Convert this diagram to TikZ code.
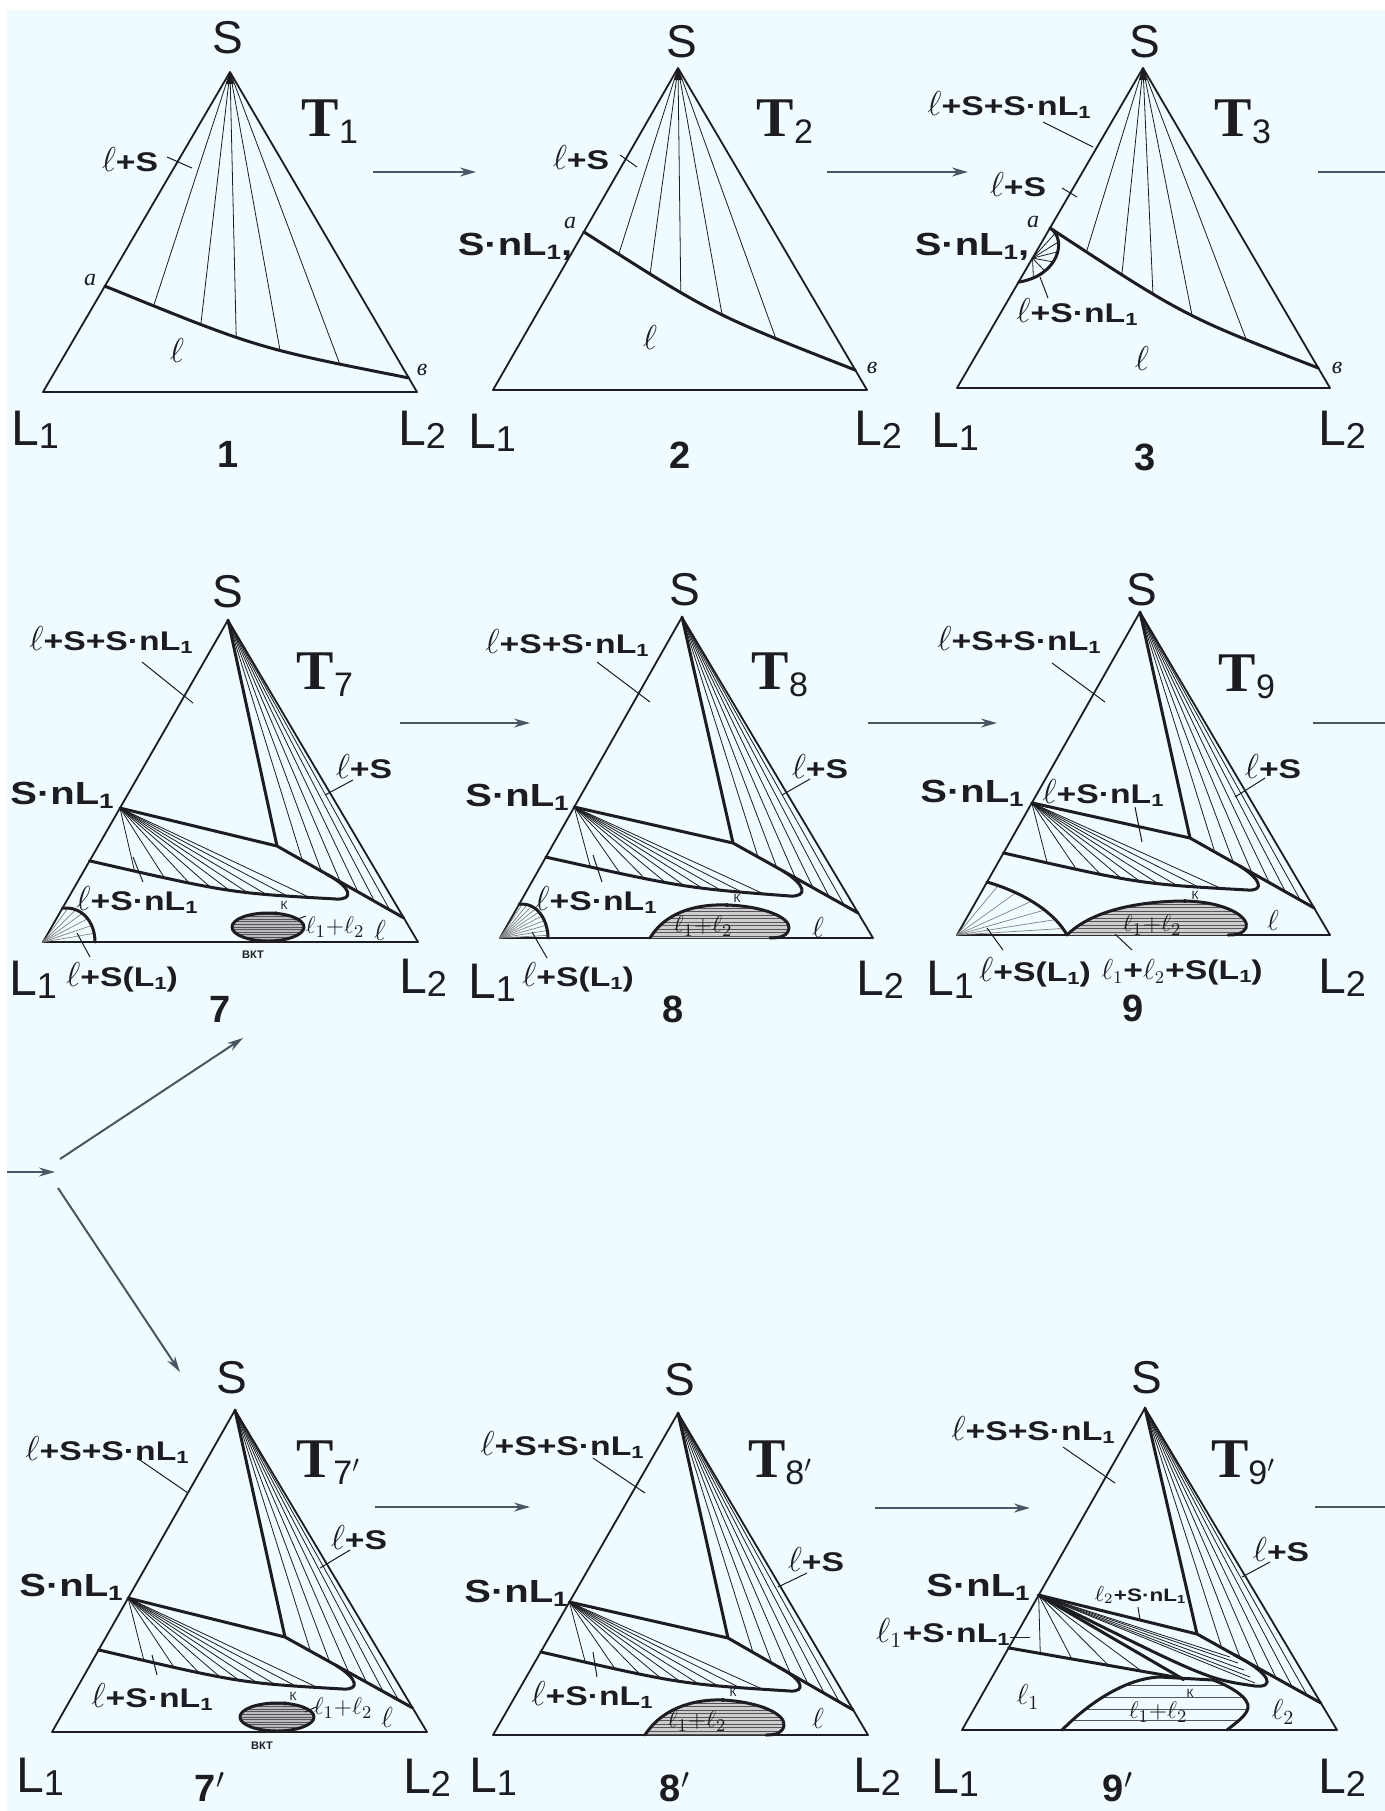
\documentclass[tikz,border=0pt]{standalone}
\usepackage{fontspec}
\usepackage{graphicx}
\setmainfont{Liberation Sans}
\newfontfamily\wsans[FakeStretch=1.25]{Liberation Sans}
\newfontfamily\tserif{Liberation Serif}
\usetikzlibrary{calc,arrows.meta}
\definecolor{bg}{RGB}{239,251,254}
\definecolor{ink}{RGB}{28,28,34}
\definecolor{arr}{RGB}{72,86,102}
\newcommand\el{\scalebox{1.2}{$\ell$}}
\newcommand\lsub[1]{\raisebox{-0.12em}{\scalebox{0.65}{#1}}}
\newcommand\rl{\wsans\bfseries\fontsize{13.5}{13.5}\selectfont}
\newcommand\vl{\wsans\bfseries\fontsize{16}{16}\selectfont}
\newcommand\sS{\fontsize{23}{23}\selectfont S}
\newcommand\Lx[1]{\fontsize{25}{25}\selectfont L\raisebox{-1.7pt}{\fontsize{18}{18}\selectfont #1}}
\newcommand\Tx[1]{{\tserif\bfseries\fontsize{28}{28}\selectfont T}\raisebox{-3.5pt}{\fontsize{17}{17}\selectfont #1}}
\newcommand\nx[1]{\bfseries\fontsize{19}{19}\selectfont #1}
\newcommand\bigel[1]{\fontsize{#1}{#1}\selectfont$\ell$}
\newcommand\ab[1]{\tserif\itshape\fontsize{12}{12}\selectfont #1}
\newcommand\llsum{\fontsize{12.5}{12.5}\selectfont$\ell_1{+}\ell_2$}
\newcommand\kk{\fontsize{6}{6}\selectfont К}
\newcommand\upper[1]{%
  \draw[side] (#1A) -- (#1B) -- (#1C) -- cycle;
  \foreach \t in {0.2,0.35,0.5,0.64,0.77,0.89} {\draw[tie] (#1A) -- ($(#1P)!\t!(#1R)$);}
  \draw[thk] (#1A) -- (#1P);
  \draw[thk] (#1Q) -- (#1P) -- (#1R);
}
\newcommand\lens[5]{%
  \path (#1U) .. controls #2 .. #3 coordinate[pos=0.12] (#1f1) coordinate[pos=0.22] (#1f2) coordinate[pos=0.32] (#1f3) coordinate[pos=0.42] (#1f4) coordinate[pos=0.52] (#1f5) coordinate[pos=0.62] (#1f6) coordinate[pos=0.72] (#1f7) coordinate[pos=0.82] (#1f8) coordinate[pos=0.91] (#1f9);
  \foreach \i in {1,...,9} {\draw[tie] (#1Q) -- (#1f\i);}
  \draw[thk] (#1U) .. controls #2 .. #3 .. controls #4 and #5 .. (#1M);
}
\newcommand\ovalh[4]{%
  \begin{scope}
    \clip (#1,#2) ellipse [x radius=#3, y radius=#4];
    \fill[ink!30] (#1-#3,#2-#4) rectangle (#1+#3,#2+#4);
    \foreach \k in {-5,...,5} {\draw[hat] (#1-#3,#2+\k*2.6) -- (#1+#3,#2+\k*2.6);}
  \end{scope}
  \draw[thk] (#1,#2) ellipse [x radius=#3, y radius=#4];
}
\begin{document}
\begin{tikzpicture}[x=0.5pt,y=-0.5pt,
  side/.style={draw=ink,line width=0.9pt,line join=round},
  thk/.style={draw=ink,line width=1.5pt,line join=round,line cap=round},
  tie/.style={draw=ink,line width=0.4pt},
  hat/.style={draw=ink!75,line width=0.35pt},
  lhat/.style={draw=ink!55,line width=0.35pt},
  ldr/.style={draw=ink,line width=0.5pt},
  lbl/.style={inner sep=0pt,text=ink},
  num/.style={inner sep=0pt,text=ink,anchor=base},
  flow/.style={draw=arr,line width=1pt,-{Stealth[length=8pt,width=4.5pt]}},
  stub/.style={draw=arr,line width=1pt}]
\path[use as bounding box] (0,0) rectangle (1385,1811);
\fill[white] (0,0) rectangle (1385,1811);
\fill[bg] (7,10) rectangle (1385,1811);

% ================= Triangle 1
\coordinate (oA) at (230,72); \coordinate (oB) at (43,392); \coordinate (oC) at (417,392);
\coordinate (oa) at ($(oA)!0.669!(oB)$); \coordinate (ov) at ($(oA)!0.956!(oC)$);
\path (oa) .. controls (257,348) .. (ov) coordinate[pos=0.12] (of1) coordinate[pos=0.27] (of2) coordinate[pos=0.41] (of3) coordinate[pos=0.6] (of4) coordinate[pos=0.82] (of5);
\foreach \i in {1,...,5} {\draw[tie] (oA) -- (of\i);}
\draw[side] (oA)--(oB)--(oC)--cycle;
\draw[thk] (oa) .. controls (257,348) .. (ov);
\fill[ink] (oA) -- ++(-4,12) -- ++(8,0) -- cycle;
\node[lbl] (o-S) at (228,38) {\sS};
\node[lbl] (o-T) at (330,122) {\Tx{1}};
\node[lbl] (o-L1) at (35,430) {\Lx{1}};
\node[lbl] (o-L2) at (422,430) {\Lx{2}};
\node[num] (o-n) at (228,467) {\nx{1}};
\node[lbl] (o-lS) at (130,160) {\rl\el+S};
\draw[ldr] (167,157) -- (192,168);
\node[lbl] (o-a) at (90,280) {\ab{a}};
\node[lbl] (o-v) at (422,370) {\ab{в}};
\node[lbl] (o-l) at (177,350) {\bigel{19}};

% ================= Triangle 2
\coordinate (wA) at (678,68); \coordinate (wB) at (493,390); \coordinate (wC) at (867,390);
\coordinate (wa) at ($(wA)!0.509!(wB)$); \coordinate (wv) at ($(wA)!0.938!(wC)$);
\path (wa) .. controls (712,314) .. (wv) coordinate[pos=0.1] (wf1) coordinate[pos=0.21] (wf2) coordinate[pos=0.34] (wf3) coordinate[pos=0.54] (wf4) coordinate[pos=0.77] (wf5);
\foreach \i in {1,...,5} {\draw[tie] (wA) -- (wf\i);}
\draw[side] (wA)--(wB)--(wC)--cycle;
\draw[thk] (wa) .. controls (712,314) .. (wv);
\fill[ink] (wA) -- ++(-4,12) -- ++(8,0) -- cycle;
\node[lbl] (w-S) at (682,42) {\sS};
\node[lbl] (w-T) at (785,122) {\Tx{2}};
\node[lbl] (w-L1) at (492,433) {\Lx{1}};
\node[lbl] (w-L2) at (878,430) {\Lx{2}};
\node[num] (w-n) at (680,468) {\nx{2}};
\node[lbl] (w-lS) at (581,158) {\rl\el+S};
\draw[ldr] (620,155) -- (637,167);
\node[lbl] (w-SnL) at (515,247) {\vl S·nL\lsub{1},};
\node[lbl] (w-a) at (570,223) {\ab{a}};
\node[lbl] (w-v) at (872,368) {\ab{в}};
\node[lbl] (w-l) at (650,337) {\bigel{19}};

% ================= Triangle 3
\coordinate (tA) at (1143,68); \coordinate (tB) at (957,388); \coordinate (tC) at (1330,388);
\coordinate (ta) at ($(tA)!0.5!(tB)$); \coordinate (tv) at ($(tA)!0.9375!(tC)$);
\coordinate (td) at ($(tA)!0.669!(tB)$); \coordinate (th) at ($(tA)!0.594!(tB)$);
\path (ta) .. controls (1184,316) .. (tv) coordinate[pos=0.1] (tf1) coordinate[pos=0.22] (tf2) coordinate[pos=0.35] (tf3) coordinate[pos=0.54] (tf4) coordinate[pos=0.78] (tf5);
\foreach \i in {1,...,5} {\draw[tie] (tA) -- (tf\i);}
\path (ta) .. controls (1068,240) and (1058,276) .. (td) coordinate[pos=0.12] (tg1) coordinate[pos=0.27] (tg2) coordinate[pos=0.42] (tg3) coordinate[pos=0.57] (tg4) coordinate[pos=0.72] (tg5) coordinate[pos=0.86] (tg6);
\foreach \i in {1,...,6} {\draw[tie] (th) -- (tg\i);}
\draw[side] (tA)--(tB)--(tC)--cycle;
\draw[thk] (ta) .. controls (1184,316) .. (tv);
\draw[thk] (ta) .. controls (1068,240) and (1058,276) .. (td);
\fill[ink] (tA) -- ++(-4,12) -- ++(8,0) -- cycle;
\node[lbl] (t-S) at (1145,42) {\sS};
\node[lbl] (t-T) at (1243,122) {\Tx{3}};
\node[lbl] (t-L1) at (955,432) {\Lx{1}};
\node[lbl] (t-L2) at (1342,430) {\Lx{2}};
\node[num] (t-n) at (1145,470) {\nx{3}};
\node[lbl] (t-lSS) at (1009,105) {\rl\el+S+S·nL\lsub{1}};
\draw[ldr] (1043,122) -- (1093,147);
\node[lbl] (t-lS) at (1018,185) {\rl\el+S};
\draw[ldr] (1062,188) -- (1077,197);
\node[lbl] (t-SnL) at (972,247) {\vl S·nL\lsub{1},};
\node[lbl] (t-a) at (1033,222) {\ab{a}};
\node[lbl] (t-lSn) at (1077,312) {\rl\el+S·nL\lsub{1}};
\draw[ldr] (1040,277) -- (1048,298);
\node[lbl] (t-l) at (1142,358) {\bigel{19}};
\node[lbl] (t-v) at (1337,368) {\ab{в}};

% ================= Triangle 7
\coordinate (gA) at (228,620); \coordinate (gB) at (43,942); \coordinate (gC) at (418,942);
\coordinate (gQ) at ($(gA)!0.584!(gB)$); \coordinate (gP) at (277,846);
\coordinate (gR) at ($(gA)!0.925!(gC)$); \coordinate (gU) at ($(gA)!0.748!(gB)$);
\coordinate (gM) at ($(gP)!0.4!(gR)$);
\upper{g}
\lens{g}{(230,893)}{(336,899)}{(354,900)}{(352,888)}
\coordinate (gc) at ($(gB)!0.105!(gA)$); \coordinate (gd) at (95,942);
\path (gc) .. controls (82,906) and (95,922) .. (gd) coordinate[pos=0.1] (gh1) coordinate[pos=0.25] (gh2) coordinate[pos=0.4] (gh3) coordinate[pos=0.55] (gh4) coordinate[pos=0.7] (gh5) coordinate[pos=0.85] (gh6);
\foreach \i in {1,...,6} {\draw[lhat] (gB) -- (gh\i);}
\draw[thk] (gc) .. controls (82,906) and (95,922) .. (gd);
\ovalh{268}{927}{36}{14}
\fill[ink] (276,913.4) circle [radius=2];
\fill[ink] (253,941) circle [radius=2];
\node[lbl] (g-S) at (228,592) {\sS};
\node[lbl] (g-T) at (325,675) {\Tx{7}};
\node[lbl] (g-L1) at (33,980) {\Lx{1}};
\node[lbl] (g-L2) at (423,978) {\Lx{2}};
\node[num] (g-n) at (220,1022) {\nx{7}};
\node[lbl] (g-lSS) at (111,640) {\rl\el+S+S·nL\lsub{1}};
\draw[ldr] (142,662) -- (193,703);
\node[lbl] (g-lS) at (364,767) {\rl\el+S};
\draw[ldr] (353,780) -- (325,795);
\node[lbl] (g-SnL) at (62,795) {\vl S·nL\lsub{1}};
\node[lbl] (g-lSn) at (137,900) {\rl\el+S·nL\lsub{1}};
\draw[ldr] (133,857) -- (143,882);
\node[lbl] (g-lSL) at (122,977) {\rl\el+S(L\lsub{1})};
\draw[ldr] (90,957) -- (77,933);
\node[lbl] (g-ll) at (335,927) {\llsum};
\draw[ldr] (295,920) -- (306,916);
\node[lbl] (g-l) at (380,930) {\bigel{14}};
\node[lbl] (g-K) at (284,905) {\kk};
\node[lbl] (g-vkt) at (253,955) {\bfseries\fontsize{5.5}{5.5}\selectfont ВКТ};

% ================= Triangle 8
\coordinate (hA) at (682,617); \coordinate (hB) at (500,938); \coordinate (hC) at (873,938);
\coordinate (hQ) at ($(hA)!0.592!(hB)$); \coordinate (hP) at (733,843);
\coordinate (hR) at ($(hA)!0.922!(hC)$); \coordinate (hU) at ($(hA)!0.748!(hB)$);
\coordinate (hM) at ($(hP)!0.4!(hR)$);
\upper{h}
\lens{h}{(685,888)}{(790,896)}{(808,897)}{(806,885)}
\coordinate (hc) at ($(hB)!0.105!(hA)$); \coordinate (hd) at (548,938);
\path (hc) .. controls (537,902) and (548,920) .. (hd) coordinate[pos=0.06] (hh1) coordinate[pos=0.16] (hh2) coordinate[pos=0.26] (hh3) coordinate[pos=0.36] (hh4) coordinate[pos=0.46] (hh5) coordinate[pos=0.56] (hh6) coordinate[pos=0.66] (hh7) coordinate[pos=0.76] (hh8) coordinate[pos=0.86] (hh9) coordinate[pos=0.95] (hh10);
\foreach \i in {1,...,10} {\draw[lhat] (hB) -- (hh\i);}
\draw[thk] (hc) .. controls (537,902) and (548,920) .. (hd);
\begin{scope}
\clip (650,938) .. controls (668,908) and (705,904) .. (727,905) .. controls (762,906) and (790,917) .. (789,928) .. controls (788,936) and (780,938) .. (770,938) -- cycle;
\fill[ink!22] (640,900) rectangle (795,940);
\foreach \y in {908,911.5,...,938} {\draw[hat] (640,\y) -- (795,\y);}
\end{scope}
\draw[thk] (650,938) .. controls (668,908) and (705,904) .. (727,905) .. controls (762,906) and (790,917) .. (789,928) .. controls (788,936) and (780,938) .. (770,938);
\fill[ink] (727,905) circle [radius=2];
\node[lbl] (h-S) at (685,590) {\sS};
\node[lbl] (h-T) at (780,675) {\Tx{8}};
\node[lbl] (h-L1) at (492,983) {\Lx{1}};
\node[lbl] (h-L2) at (880,980) {\Lx{2}};
\node[num] (h-n) at (673,1022) {\nx{8}};
\node[lbl] (h-lSS) at (567,643) {\rl\el+S+S·nL\lsub{1}};
\draw[ldr] (597,662) -- (650,702);
\node[lbl] (h-lS) at (820,767) {\rl\el+S};
\draw[ldr] (810,779) -- (782,795);
\node[lbl] (h-SnL) at (517,797) {\vl S·nL\lsub{1}};
\node[lbl] (h-lSn) at (596,900) {\rl\el+S·nL\lsub{1}};
\draw[ldr] (593,855) -- (602,882);
\node[lbl] (h-lSL) at (578,977) {\rl\el+S(L\lsub{1})};
\draw[ldr] (547,958) -- (532,932);
\node[lbl] (h-ll) at (703,926) {\llsum};
\node[lbl] (h-l) at (818,927) {\bigel{14}};
\node[lbl] (h-K) at (737,898) {\kk};

% ================= Triangle 9
\coordinate (iA) at (1140,612); \coordinate (iB) at (957,935); \coordinate (iC) at (1330,935);
\coordinate (iQ) at ($(iA)!0.591!(iB)$); \coordinate (iP) at (1190,838);
\coordinate (iR) at ($(iA)!0.916!(iC)$); \coordinate (iU) at ($(iA)!0.746!(iB)$);
\coordinate (iM) at ($(iP)!0.4!(iR)$);
\upper{i}
\lens{i}{(1140,884)}{(1248,890)}{(1264,891)}{(1262,880)}
\coordinate (ic) at ($(iB)!0.164!(iA)$); \coordinate (id) at (1067,935);
\path (ic) .. controls (1025,893) and (1055,913) .. (id) coordinate[pos=0.1] (ih1) coordinate[pos=0.27] (ih2) coordinate[pos=0.44] (ih3) coordinate[pos=0.6] (ih4) coordinate[pos=0.76] (ih5) coordinate[pos=0.9] (ih6);
\foreach \i in {1,...,6} {\draw[lhat] (iB) -- (ih\i);}
\draw[thk] (ic) .. controls (1025,893) and (1055,913) .. (id);
\begin{scope}
\clip (1067,935) .. controls (1095,907) and (1150,901) .. (1185,901) .. controls (1228,902) and (1250,918) .. (1246,928) .. controls (1243,934) and (1236,935) .. (1228,935) -- cycle;
\fill[ink!22] (1060,895) rectangle (1255,937);
\foreach \y in {904,907.5,...,935} {\draw[hat] (1060,\y) -- (1255,\y);}
\end{scope}
\draw[thk] (1067,935) .. controls (1095,907) and (1150,901) .. (1185,901) .. controls (1228,902) and (1250,918) .. (1246,928) .. controls (1243,934) and (1236,935) .. (1228,935);
\fill[ink] (1185,901) circle [radius=2];
\node[lbl] (i-S) at (1142,590) {\sS};
\node[lbl] (i-T) at (1247,677) {\Tx{9}};
\node[lbl] (i-L1) at (950,980) {\Lx{1}};
\node[lbl] (i-L2) at (1342,978) {\Lx{2}};
\node[num] (i-n) at (1133,1021) {\nx{9}};
\node[lbl] (i-lSS) at (1019,640) {\rl\el+S+S·nL\lsub{1}};
\draw[ldr] (1052,663) -- (1105,702);
\node[lbl] (i-lS) at (1273,767) {\rl\el+S};
\draw[ldr] (1265,778) -- (1235,797);
\node[lbl] (i-SnL) at (972,793) {\vl S·nL\lsub{1}};
\node[lbl] (i-lSn) at (1103,793) {\rl\el+S·nL\lsub{1}};
\draw[ldr] (1135,807) -- (1142,842);
\node[lbl] (i-lSL) at (1035,972) {\rl\el+S(L\lsub{1})};
\draw[ldr] (1003,950) -- (987,928);
\node[lbl] (i-llSL) at (1182,972) {\rl$\ell_1$+$\ell_2$+S(L\lsub{1})};
\draw[ldr] (1132,950) -- (1115,934);
\node[lbl] (i-ll) at (1152,925) {\llsum};
\node[lbl] (i-l) at (1273,920) {\bigel{14}};
\node[lbl] (i-K) at (1195,895) {\kk};

% ================= Triangle 7'
\coordinate (jA) at (235,1410); \coordinate (jB) at (52,1732); \coordinate (jC) at (427,1732);
\coordinate (jQ) at ($(jA)!0.584!(jB)$); \coordinate (jP) at (285,1637);
\coordinate (jR) at ($(jA)!0.925!(jC)$); \coordinate (jU) at ($(jA)!0.745!(jB)$);
\coordinate (jM) at ($(jP)!0.4!(jR)$);
\upper{j}
\lens{j}{(240,1683)}{(343,1689)}{(360,1690)}{(358,1679)}
\ovalh{277}{1717}{37}{14}
\fill[ink] (285,1703.4) circle [radius=2];
\fill[ink] (262,1731) circle [radius=2];
\node[lbl] (j-S) at (232,1378) {\sS};
\node[lbl] (j-T) at (328,1463) {\Tx{7$'$}};
\node[lbl] (j-L1) at (40,1777) {\Lx{1}};
\node[lbl] (j-L2) at (427,1778) {\Lx{2}};
\node[num] (j-n) at (210,1801) {\nx{7$'$}};
\node[lbl] (j-lSS) at (107,1450) {\rl\el+S+S·nL\lsub{1}};
\draw[ldr] (137,1458) -- (188,1493);
\node[lbl] (j-lS) at (359,1538) {\rl\el+S};
\draw[ldr] (350,1550) -- (320,1568);
\node[lbl] (j-SnL) at (71,1587) {\vl S·nL\lsub{1}};
\node[lbl] (j-lSn) at (152,1697) {\rl\el+S·nL\lsub{1}};
\draw[ldr] (152,1655) -- (157,1675);
\node[lbl] (j-ll) at (343,1708) {\llsum};
\draw[ldr] (305,1712) -- (316,1707);
\node[lbl] (j-l) at (387,1717) {\bigel{14}};
\node[lbl] (j-K) at (293,1696) {\kk};
\node[lbl] (j-vkt) at (262,1746) {\bfseries\fontsize{5.5}{5.5}\selectfont ВКТ};

% ================= Triangle 8'
\coordinate (kA) at (678,1413); \coordinate (kB) at (493,1735); \coordinate (kC) at (868,1735);
\coordinate (kQ) at ($(kA)!0.587!(kB)$); \coordinate (kP) at (728,1638);
\coordinate (kR) at ($(kA)!0.922!(kC)$); \coordinate (kU) at ($(kA)!0.742!(kB)$);
\coordinate (kM) at ($(kP)!0.4!(kR)$);
\upper{k}
\lens{k}{(680,1684)}{(790,1691)}{(806,1692)}{(804,1680)}
\begin{scope}
\clip (645,1735) .. controls (664,1705) and (700,1699) .. (723,1700) .. controls (760,1702) and (785,1714) .. (784,1725) .. controls (783,1733) and (776,1735) .. (766,1735) -- cycle;
\fill[ink!22] (640,1695) rectangle (790,1737);
\foreach \y in {1703,1706.5,...,1735} {\draw[hat] (640,\y) -- (790,\y);}
\end{scope}
\draw[thk] (645,1735) .. controls (664,1705) and (700,1699) .. (723,1700) .. controls (760,1702) and (785,1714) .. (784,1725) .. controls (783,1733) and (776,1735) .. (766,1735);
\fill[ink] (723,1700) circle [radius=2];
\node[lbl] (k-S) at (680,1380) {\sS};
\node[lbl] (k-T) at (780,1463) {\Tx{8$'$}};
\node[lbl] (k-L1) at (493,1777) {\Lx{1}};
\node[lbl] (k-L2) at (877,1777) {\Lx{2}};
\node[num] (k-n) at (675,1801) {\nx{8$'$}};
\node[lbl] (k-lSS) at (562,1445) {\rl\el+S+S·nL\lsub{1}};
\draw[ldr] (593,1458) -- (645,1493);
\node[lbl] (k-lS) at (816,1560) {\rl\el+S};
\draw[ldr] (807,1573) -- (778,1587);
\node[lbl] (k-SnL) at (516,1593) {\vl S·nL\lsub{1}};
\node[lbl] (k-lSn) at (592,1695) {\rl\el+S·nL\lsub{1}};
\draw[ldr] (593,1652) -- (597,1677);
\node[lbl] (k-ll) at (697,1721) {\llsum};
\node[lbl] (k-l) at (818,1718) {\bigel{14}};
\node[lbl] (k-K) at (733,1692) {\kk};

% ================= Triangle 9'
\coordinate (zA) at (1145,1408); \coordinate (zB) at (962,1730); \coordinate (zC) at (1337,1730);
\coordinate (zQ) at ($(zA)!0.581!(zB)$); \coordinate (zP) at (1197,1634);
\coordinate (zR) at ($(zA)!0.916!(zC)$); \coordinate (zU) at ($(zA)!0.745!(zB)$);
\coordinate (zM) at ($(zP)!0.3!(zR)$);
\coordinate (zK1) at (1175,1677); \coordinate (zK) at (1183,1679);
\upper{z}
\foreach \t in {0.19,0.38,0.6,0.8} {\draw[tie] (zQ) -- ($(zU)!\t!(zK1)$);}
\foreach \p in {(1255,1683),(1250,1677),(1244,1670),(1238,1663),(1230,1657)} {\draw[tie] (zQ) -- \p;}
\draw[thk] (zU) -- (zK1);
\draw[thk] (zQ) -- (zK);
\draw[thk] (zQ) .. controls (1207,1679) .. (1255,1686) .. controls (1275,1688) and (1272,1674) .. (zM);
\begin{scope}
\clip (1062,1730) .. controls (1092,1700) and (1128,1678) .. (1160,1677) -- (1213,1680) .. controls (1230,1686) and (1250,1698) .. (1248,1708) .. controls (1246,1716) and (1237,1722) .. (1227,1730) -- cycle;
\foreach \y in {1685,1697,1709,1720} {\draw[hat] (1060,\y) -- (1255,\y);}
\end{scope}
\draw[thk] (1062,1730) .. controls (1092,1700) and (1128,1678) .. (1160,1677) -- (1213,1680) .. controls (1230,1686) and (1250,1698) .. (1248,1708) .. controls (1246,1716) and (1237,1722) .. (1227,1730);
\fill[ink] (zK) circle [radius=2];
\node[lbl] (z-S) at (1147,1378) {\sS};
\node[lbl] (z-T) at (1243,1463) {\Tx{9$'$}};
\node[lbl] (z-L1) at (955,1778) {\Lx{1}};
\node[lbl] (z-L2) at (1342,1778) {\Lx{2}};
\node[num] (z-n) at (1118,1801) {\nx{9$'$}};
\node[lbl] (z-lSS) at (1033,1430) {\rl\el+S+S·nL\lsub{1}};
\draw[ldr] (1063,1447) -- (1115,1483);
\node[lbl] (z-lS) at (1281,1550) {\rl\el+S};
\draw[ldr] (1270,1562) -- (1242,1577);
\node[lbl] (z-SnL) at (978,1587) {\vl S·nL\lsub{1}};
\node[lbl,anchor=east] (z-l1Sn) at (1010,1633) {\rl\scalebox{1.2}{$\ell_1$}+S·nL\lsub{1}};
\draw[ldr] (1010,1637) -- (1030,1637);
\node[lbl] (z-l2Sn) at (1140,1595) {\wsans\bfseries\fontsize{9}{9}\selectfont\scalebox{1.2}{$\ell_2$}+S·nL\lsub{1}};
\draw[ldr] (1138,1607) -- (1140,1620);
\node[lbl] (z-l1) at (1028,1697) {\fontsize{14}{14}\selectfont$\ell_1$};
\node[lbl] (z-l2) at (1283,1712) {\fontsize{14}{14}\selectfont$\ell_2$};
\node[lbl] (z-ll) at (1158,1712) {\llsum};
\node[lbl] (z-K) at (1190,1693) {\kk};

% ================= flow arrows
\coordinate (a1s) at (373,172); \coordinate (a1e) at (476,172);
\coordinate (a2s) at (827,172); \coordinate (a2e) at (968,172);
\coordinate (a3s) at (1318,172); \coordinate (a3e) at (1385,172);
\coordinate (b1s) at (400,723); \coordinate (b1e) at (530,723);
\coordinate (b2s) at (868,723); \coordinate (b2e) at (997,723);
\coordinate (b3s) at (1313,723); \coordinate (b3e) at (1385,723);
\coordinate (c1s) at (375,1507); \coordinate (c1e) at (530,1507);
\coordinate (c2s) at (875,1508); \coordinate (c2e) at (1030,1508);
\coordinate (c3s) at (1315,1507); \coordinate (c3e) at (1385,1507);
\coordinate (m0s) at (7,1172); \coordinate (m0e) at (55,1172);
\coordinate (mus) at (60,1159); \coordinate (mue) at (243,1038);
\coordinate (mds) at (58,1188); \coordinate (mde) at (180,1372);
\draw[flow] (a1s) -- (a1e);
\draw[flow] (a2s) -- (a2e);
\draw[stub] (a3s) -- (a3e);
\draw[flow] (b1s) -- (b1e);
\draw[flow] (b2s) -- (b2e);
\draw[stub] (b3s) -- (b3e);
\draw[flow] (c1s) -- (c1e);
\draw[flow] (c2s) -- (c2e);
\draw[stub] (c3s) -- (c3e);
\draw[flow] (m0s) -- (m0e);
\draw[flow] (mus) -- (mue);
\draw[flow] (mds) -- (mde);
\end{tikzpicture}
\end{document}
